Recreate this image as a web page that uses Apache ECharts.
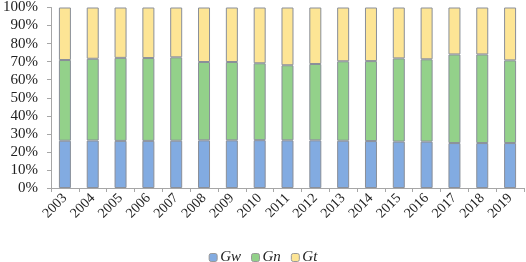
<!DOCTYPE html>
<html><head><meta charset="utf-8">
<script src="https://cdn.jsdelivr.net/npm/echarts@6/dist/echarts.min.js"></script>
<style>html,body{margin:0;padding:0;background:#fff}#c{width:526px;height:262px}</style>
</head><body><div id="c"></div>
<script>
const years = ['2003','2004','2005','2006','2007','2008','2009','2010','2011','2012','2013','2014','2015','2016','2017','2018','2019'];
const Gw = [26.2,26.3,26.1,26.1,26.2,26.4,26.4,26.5,26.4,26.4,26.2,26.0,25.7,25.7,24.9,24.9,24.9];
const Gn = [44.7,45.3,46.0,45.9,46.2,43.4,43.4,42.6,41.6,42.3,44.0,44.3,46.1,45.6,49.1,49.1,45.8];
const Gt = [29.1,28.4,27.9,28.0,27.6,30.2,30.2,30.9,32.0,31.3,29.8,29.7,28.2,28.7,26.0,26.0,29.3];
const yTicks = ['0%','10%','20%','30%','40%','50%','60%','70%','80%','90%','100%'];
const names = ['Gw','Gn','Gt'];
const colors = ['#82ABE1','#93D18A','#FDE595'];
const font = 'Liberation Serif';
const chart = echarts.init(document.getElementById('c'));
const mk = (name, data, i) => ({
  name, type:'bar', stack:'s', data, barWidth:12,
  itemStyle:{color:colors[i], borderColor:'#8a8f99', borderWidth:1}
});
chart.setOption({
  animation:false,
  textStyle:{fontFamily:font},
  grid:{left:50,right:2,top:6.5,bottom:74},
  legend:{top:245,left:'center',itemWidth:8,itemHeight:8,itemGap:10,
    textStyle:{fontFamily:font,fontStyle:'italic',fontSize:15,color:'#222',padding:[0,0,0,-2]},
    itemStyle:{borderColor:'#999',borderWidth:1},
    data:names},
  xAxis:{type:'category',data:years,
    axisLine:{lineStyle:{color:'#a6a6a6'}},
    axisTick:{show:true,length:4,lineStyle:{color:'#a6a6a6'}},
    axisLabel:{rotate:45,fontSize:14,color:'#222',fontFamily:font,margin:8,padding:[12,0,0,0]}},
  yAxis:{type:'value',min:0,max:100,interval:10,
    axisLine:{show:true,lineStyle:{color:'#a6a6a6'}},
    axisTick:{show:true,length:4,lineStyle:{color:'#a6a6a6'}},
    splitLine:{show:false},
    axisLabel:{fontSize:15,color:'#222',fontFamily:font,margin:13,
      formatter:(v)=>yTicks[Math.round(v/10)]}},
  series:[mk('Gw',Gw,0),mk('Gn',Gn,1),mk('Gt',Gt,2)]
});
</script></body></html>
